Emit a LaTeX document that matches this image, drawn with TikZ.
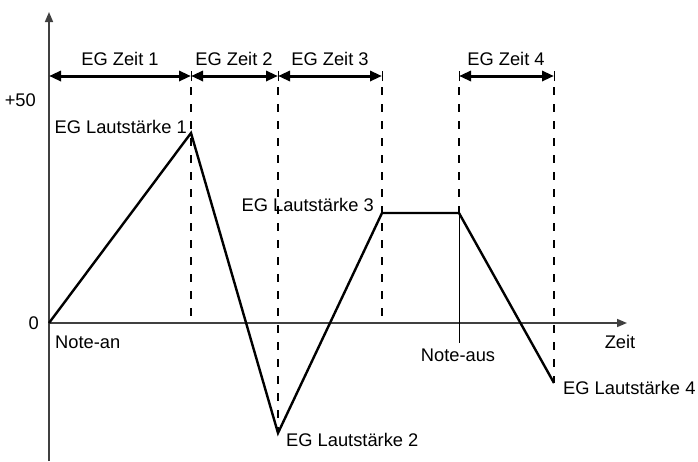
\documentclass[tikz,border=0pt]{standalone}
\usepackage{fontspec}
\setmainfont{Liberation Sans}
\usetikzlibrary{arrows.meta}

\begin{document}
\begin{tikzpicture}[
    x=1pt, y=-1pt,
    lbl/.style={inner sep=0pt, font=\fontsize{18.3}{21}\selectfont},
    axis/.style={-{Triangle[length=10pt,width=8pt]}, line width=1.5pt, black!75},
    env/.style={line width=2.4pt, line join=miter},
    guide/.style={line width=1.3pt, dash pattern=on 8pt off 9pt},
    span/.style={{Triangle[length=12pt,width=10pt]}-{Triangle[length=12pt,width=10pt]}, line width=3pt},
    tick/.style={line width=1pt},
  ]
    \useasboundingbox (0,0) rectangle (698,461);

    % Punkte der Hüllkurve
    \coordinate (o)  at (49,323);
    \coordinate (p1) at (191,133);
    \coordinate (p2) at (278,433);
    \coordinate (p3) at (382,213);
    \coordinate (p3b) at (459,213);
    \coordinate (p4) at (554,383);

    % Achsen
    \coordinate (ybot) at (49,461);
    \coordinate (ytop) at (49,12);
    \coordinate (xend) at (627,323);
    \draw[axis] (ybot) -- (ytop);
    \draw[axis] (o) -- (xend);

    % Hilfslinien
    \coordinate (t0) at (49,76);
    \coordinate (t1) at (191,76);
    \coordinate (t2) at (278,76);
    \coordinate (t3) at (382,76);
    \coordinate (t4) at (459,76);
    \coordinate (t5) at (554,76);
    \coordinate (g1) at (191,318);
    \coordinate (g3) at (382,318);
    \coordinate (na) at (459,343);
    \draw[guide] (191,87) -- (g1);
    \draw[guide] (278,87) -- (p2);
    \draw[guide] (382,87) -- (g3);
    \draw[guide] (459,87) -- (p3b);
    \draw[guide] (554,87) -- (p4);
    \draw[line width=1pt] (p3b) -- (na);

    % Zeitabschnitte
    \foreach \t in {t1,t2,t3,t4,t5}
      \draw[tick] ([yshift=-5pt]\t) -- ([yshift=5pt]\t);
    \draw[span] (t0) -- (t1);
    \draw[span] (t1) -- (t2);
    \draw[span] (t2) -- (t3);
    \draw[span] (t4) -- (t5);

    % Hüllkurve
    \draw[env] (o) -- (p1) -- (p2) -- (p3) -- (p3b) -- (p4);

    % Beschriftung
    \node[lbl] (z1) at (120,59) {EG Zeit 1};
    \node[lbl] (z2) at (234,59) {EG Zeit 2};
    \node[lbl] (z3) at (330,59) {EG Zeit 3};
    \node[lbl] (z4) at (506,59) {EG Zeit 4};
    \node[lbl, anchor=east] (plus) at (36,100) {+50};
    \node[lbl, anchor=east] (null) at (39,323) {0};
    \node[lbl, anchor=east] (l1) at (187,127) {EG Lautstärke 1};
    \node[lbl, anchor=east] (l3) at (374,205) {EG Lautstärke 3};
    \node[lbl, anchor=west] (l2) at (286,440) {EG Lautstärke 2};
    \node[lbl, anchor=west] (l4) at (563,388) {EG Lautstärke 4};
    \node[lbl, anchor=west] (nan) at (55,342) {Note-an};
    \node[lbl] (naus) at (458,355) {Note-aus};
    \node[lbl] (zeit) at (620,342) {Zeit};
\end{tikzpicture}
\end{document}
